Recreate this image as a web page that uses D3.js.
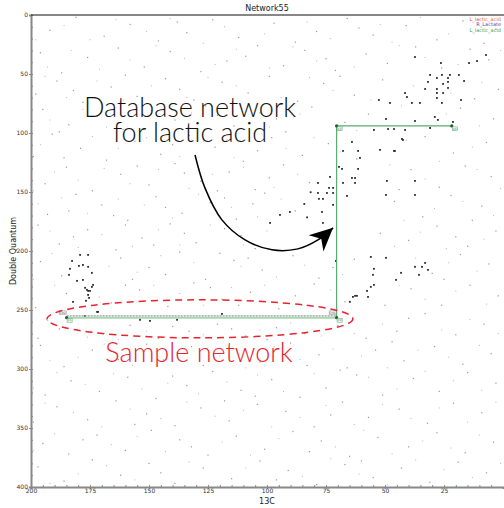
<!DOCTYPE html>
<meta charset="utf-8">
<style>
  body { margin: 0; background: #fff; }
  text { font-family: "DejaVu Sans", sans-serif; }
  .tick text { fill: #333; font-size: 6px; }
  .axis path, .axis line { stroke: #888; }
  .note { font-family: Lato, "Open Sans", sans-serif; font-size: 27px; font-weight: 300; }
</style>
<svg width="504" height="508"></svg>
<script src="https://d3js.org/d3.v7.min.js"></script>
<script>

// tick labels
var xTicks = [200, 175, 150, 125, 100, 75, 50, 25];
var yTicks = [0, 50, 100, 150, 200, 250, 300, 350, 400];

// legend
var legendNames = ["L_lactic_acid", "R_Lactate", "L_lactic_acid"];
var legendColors = ["#f2553a", "#3b4bb0", "#3a9a55"];

// database network for lactic acid (13C shift, double quantum)
var dbNetwork = [[184.9, 256.5], [70.5, 256.5], [70.5, 94], [21.7, 94]];
var dbLabels = ["C1", "C2", "C2", "C3"];
// sample network found in the spectrum
var sampleNetwork = [[184.9, 255], [70.5, 255]];
var sampleLabels = ["CH2", "CH1"];

// strong peaks
var peaks = [
  [37.3,35.6],[26.3,40.7],[11.0,39.0],[30.9,50.8],[25.9,50.8],[22.5,50.8],[18.7,50.8],
  [28.0,53.4],[23.3,53.4],[31.8,56.7],[25.4,58.4],[23.3,56.7],[16.5,55.9],[33.0,62.7],
  [28.0,62.7],[23.3,61.8],[41.5,66.1],[40.7,69.5],[38.6,74.5],[35.2,74.5],[28.0,66.1],
  [25.4,66.1],[28.0,70.3],[25.9,74.5],[17.8,72.0],[47.9,74.5],[52.6,72.0],[49.6,88.1],
  [37.3,89.8],[27.6,88.9],[28.9,86.4],[21.2,90.6],[54.7,97.4],[48.7,96.6],[46.2,96.6],
  [41.5,97.4],[42.8,105.0],[45.8,115.2],[30.9,95.7],[14.4,40.7],[7.2,33.9],
  [64.0,107.6],[67.8,115.2],[61.4,115.2],[60.6,121.1],[69.5,128.7],[68.2,130.4],
  [61.4,130.4],[64.0,138.1],[62.7,138.1],[62.7,142.3],[67.8,142.3],[78.4,142.3],
  [73.3,137.2],[72.0,146.5],[73.7,146.5],[72.0,150.8],[74.6,150.8],[78.4,150.8],
  [76.3,155.8],[78.0,155.8],[66.1,153.3],[49.6,152.5],[52.1,114.3],[46.2,115.2],
  [42.4,105.9],[37.3,140.6],[49.2,140.6],[37.3,152.5],[76.3,176.2],[76.7,166.9],
  [72.0,160.9],[56.0,205.0],[54.7,215.1],[55.1,220.2],[56.0,230.4],[54.7,228.7],
  [57.6,233.8],[45.3,224.5],[43.2,218.5],[37.3,213.4],[35.6,220.2],[33.0,210.1],
  [31.8,216.0],[34.3,213.4],[61.9,238.0],[63.6,238.9],[49.6,205.8],[70.8,208.4],
  [179.7,212.6],[178.0,211.8],[175.8,213.4],[174.2,218.5],[183.5,215.1],[183.9,220.2],
  [178.0,224.5],[180.5,225.3],[173.7,228.7],[177.1,231.2],[176.3,232.9],[175.8,233.8],
  [175.0,233.8],[174.2,230.4],[175.8,237.2],[175.4,239.7],[176.7,242.2],[182.2,243.1],
  [177.1,255.0],[172.0,251.6],[182.6,208.4],[175.8,203.3],[179.2,203.3],
  [153.8,258.3],[149.6,259.2],[138.1,258.3],[119.1,253.3],[171.6,251.6],
  [62.7,238.0],[57.2,238.9],[64.9,243.1],[94.5,169.4],[90.3,166.9],[98.7,176.2],
  [84.2,160.1],[81.5,150.2],[83.0,171.5]
];

// weak noise peaks
var noise = [
  [3,12],[17,5],[28,21],[41,9],[55,17],[66,3],[79,14],[88,23],[97,7],[112,19],[123,4],[134,15],[146,22],[158,8],[169,18],[181,2],[192,13],[8,24],[61,11],[138,6],
  [6,38],[14,29],[26,45],[37,27],[49,41],[58,33],[71,47],[84,30],[93,43],[104,26],[117,39],[128,48],[141,31],[152,44],[163,28],[176,36],[187,49],[196,32],[109,35],[75,37],
  [2,63],[12,71],[51,55],[63,68],[76,58],[87,73],[99,52],[108,66],[119,57],[131,72],[143,54],[155,69],[166,61],[178,74],[189,56],[198,67],[69,52],[137,63],[160,51],[182,64],
  [4,88],[18,79],[31,96],[57,84],[67,91],[81,78],[92,99],[103,83],[114,94],[126,77],[139,89],[149,81],[161,97],[172,86],[184,93],[195,80],[121,85],[96,88],[165,76],[188,99],
  [7,108],[21,117],[33,103],[62,122],[74,109],[85,119],[98,104],[110,124],[122,112],[133,102],[145,118],[156,107],[168,123],[179,113],[191,101],[199,120],[117,106],[140,110],[104,115],[186,121],
  [5,137],[16,128],[27,146],[39,131],[82,142],[93,127],[105,148],[116,133],[128,141],[139,126],[150,144],[162,135],[174,149],[185,129],[194,143],[44,148],[135,134],[155,128],[99,138],[121,149],
  [9,162],[22,153],[34,171],[46,158],[88,166],[101,151],[113,173],[124,159],[136,168],[147,154],[159,174],[170,161],[181,152],[193,169],[13,174],[143,163],[118,155],[165,170],[184,166],[106,160],
  [3,183],[15,196],[28,179],[40,191],[52,185],[105,198],[118,181],[130,193],[141,177],[153,189],[164,199],[176,182],[188,194],[197,178],[20,188],[148,195],[111,187],[135,185],[160,178],[182,188],
  [6,211],[18,203],[30,219],[63,207],[78,223],[89,204],[102,216],[114,208],[126,224],[137,201],[150,214],[162,206],[187,221],[196,209],[72,214],[120,202],[143,220],[157,224],[108,206],[25,224],
  [2,238],[14,229],[26,246],[39,232],[67,243],[80,228],[95,249],[107,235],[119,241],[131,227],[142,247],[154,233],[166,244],[185,236],[198,248],[50,246],[124,231],[112,246],[160,229],[88,238],
  [8,262],[20,271],[33,253],[45,268],[58,274],[70,263],[84,270],[96,265],[109,272],[121,262],[133,268],[146,274],[158,263],[169,270],[188,266],[197,274],[40,257],[100,275],[140,264],[115,266],
  [5,287],[17,296],[29,281],[42,293],[54,284],[66,299],[78,288],[90,278],[103,294],[114,283],[127,297],[138,286],[151,279],[163,292],[174,284],[186,298],[196,280],[83,297],[132,281],[47,277],
  [3,312],[15,303],[27,319],[38,308],[51,322],[62,305],[75,316],[86,324],[98,309],[111,318],[123,302],[134,314],[147,325],[159,307],[171,319],[183,310],[194,322],[69,301],[140,306],[105,323],
  [9,337],[21,329],[32,346],[44,334],[57,341],[68,328],[80,349],[92,336],[104,330],[116,344],[128,333],[139,348],[151,338],[164,327],[176,343],[189,332],[199,345],[73,339],[118,327],[156,347],
  [4,362],[16,371],[28,354],[40,366],[53,358],[65,374],[77,361],[89,353],[101,368],[113,357],[125,373],[137,360],[149,352],[160,369],[172,356],[184,372],[195,363],[82,370],[132,366],[178,360],
  [7,388],[19,379],[31,396],[43,384],[55,392],[67,381],[79,398],[91,386],[103,378],[115,393],[127,384],[139,397],[150,380],[162,390],[174,377],[186,395],[197,383],[96,394],[145,388],[60,378]
];

// fainter noise peaks
var faint = [
  [11,4],[23,16],[35,2],[47,23],[52,8],[73,20],[83,6],[101,16],[118,10],[127,24],[141,3],[151,14],[164,4],[175,21],[186,9],[198,21],
  [1,30],[19,42],[33,36],[44,26],[63,44],[79,39],[89,27],[99,45],[113,29],[122,42],[135,37],[147,26],[158,38],[171,46],[183,30],[193,44],
  [9,57],[22,66],[38,60],[56,72],[72,64],[82,53],[94,70],[113,60],[125,53],[134,70],[149,60],[161,72],[172,56],[185,70],[194,52],
  [10,94],[24,84],[43,77],[62,98],[86,84],[99,95],[108,78],[118,97],[132,83],[144,96],[155,86],[168,95],[178,80],[192,89],
  [13,112],[27,124],[41,106],[69,116],[80,104],[92,113],[114,121],[127,107],[137,120],[151,104],[163,113],[174,103],[196,110],
  [1,147],[11,131],[33,139],[48,127],[87,135],[97,146],[110,129],[123,135],[133,147],[146,131],[158,143],[169,130],[180,140],[190,133],[199,149],
  [4,170],[17,158],[29,164],[42,174],[94,156],[104,171],[115,163],[129,152],[140,172],[152,161],[163,156],[176,168],[187,155],[197,160],
  [8,190],[24,198],[35,184],[46,196],[100,183],[110,195],[124,178],[137,195],[146,182],[157,196],[170,186],[180,197],[192,183],
  [11,217],[23,210],[37,206],[68,220],[84,212],[96,222],[111,213],[131,210],[145,204],[155,218],[167,213],[191,202],[199,224],
  [7,245],[20,234],[33,241],[44,229],[73,233],[85,246],[101,229],[115,231],[127,246],[137,236],[148,229],[171,239],[190,229],
  [2,270],[14,258],[26,267],[51,262],[63,270],[77,272],[90,261],[103,267],[127,271],[151,268],[163,275],[176,273],[193,259],
  [10,280],[23,290],[36,284],[49,299],[60,289],[72,283],[86,292],[97,281],[109,299],[120,289],[144,292],[157,297],[169,279],[180,290],[192,293],
  [9,318],[21,310],[33,302],[45,317],[57,307],[80,304],[93,319],[104,305],[117,311],[129,321],[142,312],[153,317],[165,304],[177,313],[189,303],[199,316],
  [3,328],[15,345],[27,333],[39,342],[51,330],[63,347],[75,331],[86,341],[98,349],[110,335],[122,340],[134,328],[145,342],[158,334],[170,349],[182,337],[194,329],
  [10,356],[22,367],[34,361],[47,372],[59,352],[71,366],[95,359],[107,373],[119,362],[143,370],[155,357],[166,364],[190,355],[199,369],
  [1,380],[13,392],[25,385],[37,377],[49,398],[61,389],[73,376],[85,391],[109,384],[121,399],[133,379],[156,394],[168,382],[180,389],[192,397]
];

// annotation arrow path (13C, DQ)
var arrowPts = [[130.5,118.6],[126.3,146.5],[119.1,173.6],[109.3,190.6],[97.9,199.0],[86.9,198.2],[78.4,190.6],[72.0,180.4]];

var svg = d3.select("svg"),
    margin = {top: 15, right: 1, bottom: 21, left: 31},
    width = +svg.attr("width") - margin.left - margin.right,
    height = +svg.attr("height") - margin.top - margin.bottom,
    g = svg.append("g").attr("transform", "translate(" + margin.left + "," + margin.top + ")");

var x = d3.scaleLinear().domain([200, 0]).range([0, width]);
var y = d3.scaleLinear().domain([0, 400]).range([0, height]);

svg.append("text")
    .attr("x", margin.left + width / 2)
    .attr("y", 11)
    .attr("text-anchor", "middle")
    .attr("font-size", 8)
    .attr("fill", "#222")
    .text("Network55");

// minor ticks
g.append("g")
    .attr("class", "axis")
    .attr("transform", "translate(0," + height + ")")
    .call(d3.axisTop(x).tickValues(d3.range(200, 0, -5)).tickSize(2).tickFormat(""))
    .call(function(a) { a.select(".domain").remove(); });
g.append("g")
    .attr("class", "axis")
    .call(d3.axisRight(y).tickValues(d3.range(0, 400, 10)).tickSize(2).tickFormat(""))
    .call(function(a) { a.select(".domain").remove(); });

var xAxis = g.append("g")
    .attr("class", "axis")
    .attr("transform", "translate(0," + height + ")")
    .call(d3.axisBottom(x).tickValues(xTicks).tickSize(2).tickPadding(0));
xAxis.select(".domain").attr("stroke-width", 2);

var yAxis = g.append("g")
    .attr("class", "axis")
    .call(d3.axisLeft(y).tickValues(yTicks).tickSize(2).tickPadding(1));
yAxis.select(".domain").attr("stroke-width", 2);

g.append("line")
    .attr("x1", 0).attr("x2", width + 1)
    .attr("y1", 0).attr("y2", 0)
    .attr("stroke", "#111").attr("stroke-width", 1.2);

svg.append("text")
    .attr("x", margin.left + width / 2)
    .attr("y", 504)
    .attr("text-anchor", "middle")
    .attr("font-size", 8)
    .attr("fill", "#222")
    .text("13C");

svg.append("text")
    .attr("transform", "translate(16," + (margin.top + height / 2) + ") rotate(-90)")
    .attr("text-anchor", "middle")
    .attr("font-size", 8)
    .attr("fill", "#222")
    .text("Double Quantum");

// peaks
g.append("g").selectAll("rect")
    .data(faint)
  .enter().append("rect")
    .attr("x", function(d) { return x(d[0]) - 0.5; })
    .attr("y", function(d) { return y(d[1]) - 0.5; })
    .attr("width", 1).attr("height", 1)
    .attr("fill", "#b5b5b5");

g.append("g").selectAll("rect")
    .data(noise)
  .enter().append("rect")
    .attr("x", function(d) { return x(d[0]) - 0.6; })
    .attr("y", function(d) { return y(d[1]) - 0.6; })
    .attr("width", 1.2).attr("height", 1.2)
    .attr("fill", "#999");

g.append("g").selectAll("rect")
    .data(peaks)
  .enter().append("rect")
    .attr("x", function(d) { return x(d[0]) - 0.9; })
    .attr("y", function(d) { return y(d[1]) - 0.9; })
    .attr("width", 1.8).attr("height", 1.8)
    .attr("fill", "#2a2a2a");

// networks
var line = d3.line()
    .x(function(d) { return x(d[0]); })
    .y(function(d) { return y(d[1]); });

g.append("path")
    .datum(dbNetwork.slice(0, 2))
    .attr("d", line)
    .attr("fill", "none")
    .attr("stroke", "#a6d8b0")
    .attr("stroke-width", 2);
g.append("path")
    .datum(dbNetwork.slice(1))
    .attr("d", line)
    .attr("fill", "none")
    .attr("stroke", "#5aab72")
    .attr("stroke-width", 1.2);
g.append("path")
    .datum(sampleNetwork)
    .attr("d", line)
    .attr("fill", "none")
    .attr("stroke", "#999")
    .attr("stroke-width", 1.4)
    .attr("stroke-dasharray", "2,1");

var dbNode = g.append("g").selectAll("g")
    .data(dbNetwork)
  .enter().append("g")
    .attr("transform", function(d) { return "translate(" + x(d[0]) + "," + y(d[1]) + ")"; });
dbNode.append("circle").attr("r", 1.6).attr("fill", "#1d5a30");
dbNode.append("rect")
    .attr("x", 0.5).attr("y", 1)
    .attr("width", 5).attr("height", 3.5)
    .attr("fill", "#fff").attr("stroke", "#5aab72").attr("stroke-width", 0.6);
dbNode.append("text")
    .attr("x", 3).attr("y", 3.8)
    .attr("text-anchor", "middle")
    .attr("font-size", 2.8).attr("fill", "#2a7a44")
    .text(function(d, i) { return dbLabels[i]; });

var sNode = g.append("g").selectAll("g")
    .data(sampleNetwork)
  .enter().append("g")
    .attr("transform", function(d) { return "translate(" + x(d[0]) + "," + y(d[1]) + ")"; });
sNode.append("rect")
    .attr("x", -7.5).attr("y", -5)
    .attr("width", 7).attr("height", 3.5)
    .attr("fill", "#fff").attr("stroke", "#888").attr("stroke-width", 0.5);
sNode.append("text")
    .attr("x", -4).attr("y", -2.2)
    .attr("text-anchor", "middle")
    .attr("font-size", 3).attr("fill", "#444")
    .text(function(d, i) { return sampleLabels[i]; });

// legend
svg.append("g").selectAll("text")
    .data(legendNames)
  .enter().append("text")
    .attr("x", 501)
    .attr("y", function(d, i) { return 20.5 + i * 5.8; })
    .attr("text-anchor", "end")
    .attr("font-size", 5)
    .attr("fill", function(d, i) { return legendColors[i]; })
    .text(function(d) { return d; });

// annotations
svg.append("defs").append("marker")
    .attr("id", "head")
    .attr("viewBox", "-24 -12 26 24")
    .attr("markerUnits", "userSpaceOnUse")
    .attr("markerWidth", 26).attr("markerHeight", 24)
    .attr("refX", 0).attr("refY", 0)
    .attr("orient", "auto")
  .append("path")
    .attr("d", "M0,0L-23,-11L-16,0L-23,11Z")
    .attr("fill", "#000");

g.append("path")
    .datum(arrowPts)
    .attr("d", line.curve(d3.curveCatmullRom))
    .attr("fill", "none")
    .attr("stroke", "#000")
    .attr("stroke-width", 1.5)
    .attr("marker-end", "url(#head)");

g.append("ellipse")
    .attr("cx", x(128.4)).attr("cy", y(257.5))
    .attr("rx", x(200 - 64.8)).attr("ry", y(16.1))
    .attr("fill", "none")
    .attr("stroke", "#e8232e")
    .attr("stroke-width", 1.5)
    .attr("stroke-dasharray", "7,5");

var dbNote = g.append("text")
    .attr("class", "note")
    .attr("text-anchor", "middle")
    .attr("fill", "#111");
dbNote.append("tspan")
    .attr("x", x(132.6)).attr("y", y(86.4))
    .text("Database network");
dbNote.append("tspan")
    .attr("x", x(132.6)).attr("y", y(108))
    .text("for lactic acid");

g.append("text")
    .attr("class", "note")
    .attr("x", x(128.8)).attr("y", y(293.9))
    .attr("text-anchor", "middle")
    .attr("fill", "#e8232e")
    .text("Sample network");

</script>
